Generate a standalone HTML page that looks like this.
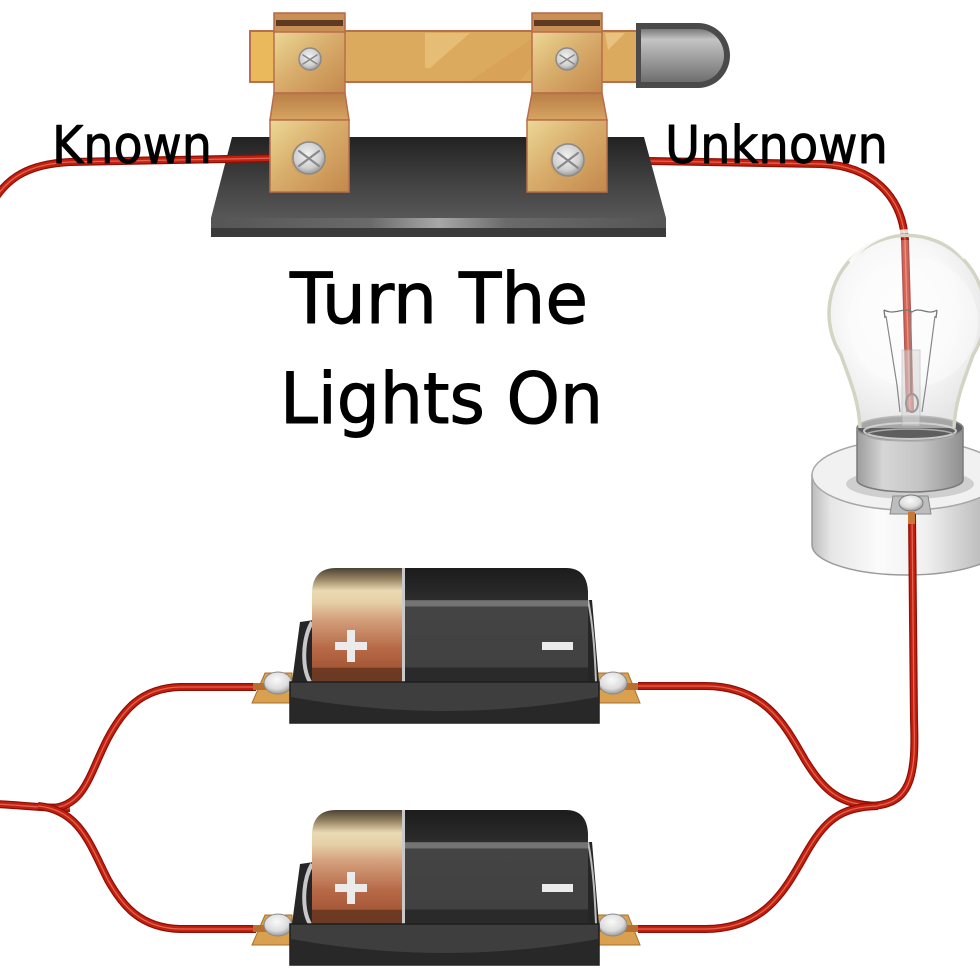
<!DOCTYPE html>
<html><head><meta charset="utf-8"><style>
html,body{margin:0;padding:0;background:#fff;}
svg{display:block;}
.w1{fill:none;stroke:#8a1008;stroke-width:8;stroke-linecap:butt;stroke-linejoin:round;}
.w2{fill:none;stroke:#c4200f;stroke-width:5.5;stroke-linejoin:round;}
.w3{fill:none;stroke:#ec7a66;stroke-width:1.3;stroke-linejoin:round;opacity:.75;}
.t{font-family:"DejaVu Sans","Liberation Sans",sans-serif;fill:#000;stroke:#000;stroke-linejoin:round;}
</style></head><body>
<svg width="980" height="980" viewBox="0 0 980 980" xmlns="http://www.w3.org/2000/svg">
<defs>
<linearGradient id="cu" x1="0" y1="0" x2="1" y2="1">
<stop offset="0" stop-color="#ecd896"/><stop offset="0.45" stop-color="#d9ae6c"/><stop offset="1" stop-color="#c3884c"/></linearGradient>
<linearGradient id="cuS" x1="0" y1="0" x2="0" y2="1">
<stop offset="0" stop-color="#b97e45"/><stop offset="1" stop-color="#d7a462"/></linearGradient>
<linearGradient id="baseTop" x1="0" y1="0" x2="0" y2="1">
<stop offset="0" stop-color="#222"/><stop offset="0.6" stop-color="#444"/><stop offset="1" stop-color="#575757"/></linearGradient>
<linearGradient id="baseFront" x1="0" y1="0" x2="1" y2="0">
<stop offset="0" stop-color="#555"/><stop offset="0.35" stop-color="#6a6a6a"/><stop offset="0.5" stop-color="#a8a8a8"/><stop offset="0.65" stop-color="#6a6a6a"/><stop offset="1" stop-color="#555"/></linearGradient>
<linearGradient id="handle" x1="0" y1="0" x2="0" y2="1">
<stop offset="0" stop-color="#7a7a7a"/><stop offset="0.2" stop-color="#c4c4c4"/><stop offset="0.6" stop-color="#9a9a9a"/><stop offset="1" stop-color="#6e6e6e"/></linearGradient>
<radialGradient id="screw" cx="0.45" cy="0.4" r="0.6">
<stop offset="0" stop-color="#f2f2f2"/><stop offset="0.7" stop-color="#cfcfcf"/><stop offset="1" stop-color="#9a9a9a"/></radialGradient>
<linearGradient id="gold" x1="0" y1="0" x2="0" y2="1">
<stop offset="0" stop-color="#4a4236"/><stop offset="0.1" stop-color="#9a8664"/><stop offset="0.2" stop-color="#eadab4"/><stop offset="0.3" stop-color="#e6cfa6"/><stop offset="0.45" stop-color="#d3a07c"/><stop offset="0.7" stop-color="#b86a48"/><stop offset="0.87" stop-color="#a65838"/><stop offset="0.88" stop-color="#6e3a22"/><stop offset="1" stop-color="#6a3a24"/></linearGradient>
<linearGradient id="dark" x1="0" y1="0" x2="0" y2="1">
<stop offset="0" stop-color="#1c1c1c"/><stop offset="0.28" stop-color="#2c2c2c"/><stop offset="0.285" stop-color="#747474"/><stop offset="0.335" stop-color="#747474"/><stop offset="0.34" stop-color="#444"/><stop offset="0.87" stop-color="#414141"/><stop offset="0.875" stop-color="#2a2a2a"/><stop offset="1" stop-color="#2a2a2a"/></linearGradient>
<radialGradient id="dome" cx="0.45" cy="0.35" r="0.7">
<stop offset="0" stop-color="#fafafa"/><stop offset="0.6" stop-color="#dcdcdc"/><stop offset="1" stop-color="#8c8c8c"/></radialGradient>
<radialGradient id="glass" cx="0.45" cy="0.4" r="0.6">
<stop offset="0" stop-color="#ffffff"/><stop offset="0.6" stop-color="#f4f4f4"/><stop offset="1" stop-color="#d6d6d6"/></radialGradient>
<linearGradient id="cyl" x1="812" y1="0" x2="1002" y2="0" gradientUnits="userSpaceOnUse">
<stop offset="0" stop-color="#bdbdbd"/><stop offset="0.1" stop-color="#e6e6e6"/><stop offset="0.35" stop-color="#fbfbfb"/><stop offset="0.6" stop-color="#f0f0f0"/><stop offset="0.9" stop-color="#bcbcbc"/><stop offset="1" stop-color="#a8a8a8"/></linearGradient>
<linearGradient id="collar" x1="0" y1="0" x2="1" y2="0">
<stop offset="0" stop-color="#9c9c9c"/><stop offset="0.25" stop-color="#d6d6d6"/><stop offset="0.6" stop-color="#c4c4c4"/><stop offset="1" stop-color="#909090"/></linearGradient>
<clipPath id="cell1"><path d="M312,682 L312,592 Q313,568 336,568 L566,568 Q587,568 588,592 L588,682 Z"/></clipPath>
<clipPath id="cell2"><path d="M312,924 L312,834 Q313,810 336,810 L566,810 Q587,810 588,834 L588,924 Z"/></clipPath>
</defs>

<rect width="980" height="980" fill="#fff"/>

<!-- BULB base (behind wire & glass) -->
<path d="M812,475 L812,545 A95,30 0 0 0 1002,545 L1002,475 Z" fill="url(#cyl)" stroke="#9a9a9a" stroke-width="1.5"/>
<ellipse cx="907" cy="475" rx="95" ry="35" fill="#f1f1f1" stroke="#a8a8a8" stroke-width="1.5"/>
<ellipse cx="910" cy="484" rx="64" ry="15" fill="#cfcfcf"/>
<path d="M857,428 L857,480 A53,12 0 0 0 963,480 L963,428 Z" fill="url(#collar)" stroke="#7a7a7a" stroke-width="1.5"/>
<ellipse cx="910" cy="428" rx="53" ry="12" fill="#5e5e5e" stroke="#888" stroke-width="1.5"/>
<ellipse cx="910" cy="431" rx="46" ry="8" fill="none" stroke="#c8c8c8" stroke-width="2"/>
<ellipse cx="910" cy="435" rx="44" ry="6" fill="none" stroke="#aaa" stroke-width="1.5"/>
<path d="M893,496 L928,496 L931,514 L890,514 Z" fill="#bdbdbd" stroke="#8a8a8a"/>
<ellipse cx="911" cy="503" rx="12" ry="8" fill="url(#dome)" stroke="#7a7a7a"/>

<!-- glass globe body -->
<g opacity="0.6">
<path d="M860,428 C859,400 849,378 841,355 A78,78 0 1 1 973,355 C965,378 955,400 954,428 Z" fill="url(#glass)"/>
</g>
<circle cx="913" cy="322" r="65" fill="#fcfcfc" opacity="0.45"/>

<!-- wire through bulb -->
<path class="w1" d="M592,160 L822,164 C872,166 902,196 905,240 L910,412"/>
<path class="w2" d="M592,160 L822,164 C872,166 902,196 905,240 L910,412"/>
<path class="w3" d="M592,160 L822,164 C872,166 902,196 905,240 L910,412"/>
<!-- faded overlay on wire inside glass -->
<path d="M905,240 L910,412" stroke="#fff" stroke-width="9" opacity="0.3" fill="none"/>

<!-- glass outline & highlights -->
<path d="M860,428 C859,400 849,378 841,355 A78,78 0 1 1 973,355 C965,378 955,400 954,428" fill="none" stroke="#d4d4c4" stroke-width="3.5"/>
<path d="M850,262 A72,72 0 0 1 965,258" fill="none" stroke="#fff" stroke-width="4" opacity="0.8"/>
<!-- filament -->
<rect x="902" y="350" width="18" height="76" fill="#d8d8d8" opacity="0.55" stroke="#b0b0b0"/>
<path d="M885,318 L884,310 M884,310 C895,316 905,306 912,312 C920,306 928,316 937,310 M937,310 L936,318" fill="none" stroke="#777" stroke-width="1.3"/>
<path d="M886,316 L897,385 L900,412 M935,316 L926,385 L922,412 M911,312 L911,395" fill="none" stroke="#888" stroke-width="1.2"/>
<ellipse cx="912" cy="403" rx="6" ry="9" fill="none" stroke="#999" stroke-width="2"/>

<!-- SWITCH -->
<polygon points="232,137 644,137 666,218 211,218" fill="url(#baseTop)"/>
<rect x="211" y="218" width="455" height="10" fill="url(#baseFront)"/>
<rect x="211" y="228" width="455" height="9" fill="#3a3a3a"/>

<path class="w1" d="M-6,200 C8,178 28,164 70,162 L280,158"/>
<path class="w2" d="M-6,200 C8,178 28,164 70,162 L280,158"/>
<path class="w3" d="M-6,200 C8,178 28,164 70,162 L280,158"/>
<rect x="278" y="155" width="14" height="6" fill="#c77a38"/>
<rect x="582" y="157" width="12" height="6" fill="#c77a38"/>

<rect x="250" y="31" width="388" height="51" fill="#dcaa5e" stroke="#b8704c" stroke-width="2"/>
<rect x="251" y="32" width="23" height="49" fill="#eab95c"/>
<polygon points="425,33 470,33 430,68 425,68" fill="#e8c27a" opacity="0.8"/>
<polygon points="470,81 520,81 560,33 540,33" fill="#d69f55" opacity="0.6"/>
<polygon points="605,33 625,33 608,50" fill="#ecc888" opacity="0.8"/>
<path d="M636,23 L698,23 A32,32.5 0 0 1 698,88 L636,88 Z" fill="#4a4a4a"/>
<path d="M641,29 L698,29 A26,26.5 0 0 1 698,82 L641,82 Z" fill="url(#handle)"/>

<rect x="274" y="13" width="71" height="20" fill="#c98f56" stroke="#b06a48" stroke-width="1.5"/>
<rect x="276" y="20" width="67" height="6" fill="#5c3b22"/>
<rect x="274" y="32" width="71" height="61" fill="url(#cu)" stroke="#b86e4a" stroke-width="1.5"/>
<polygon points="274,93 345,93 349,120 270,120" fill="url(#cuS)" stroke="#b86e4a" stroke-width="1.5"/>
<rect x="270" y="120" width="79" height="72" fill="url(#cu)" stroke="#b86e4a" stroke-width="1.5"/>
<rect x="532" y="13" width="70" height="20" fill="#c98f56" stroke="#b06a48" stroke-width="1.5"/>
<rect x="534" y="20" width="66" height="6" fill="#5c3b22"/>
<rect x="532" y="32" width="70" height="61" fill="url(#cu)" stroke="#b86e4a" stroke-width="1.5"/>
<polygon points="532,93 602,93 607,120 527,120" fill="url(#cuS)" stroke="#b86e4a" stroke-width="1.5"/>
<rect x="527" y="120" width="80" height="72" fill="url(#cu)" stroke="#b86e4a" stroke-width="1.5"/>

<g stroke-linecap="round">
<circle cx="310" cy="59" r="11" fill="url(#screw)" stroke="#8a8a8a" stroke-width="1.5"/>
<path d="M303,55 L317,64 M317,55 L303,64" stroke="#8a8a8a" stroke-width="1.6"/>
<circle cx="567" cy="59" r="11" fill="url(#screw)" stroke="#8a8a8a" stroke-width="1.5"/>
<path d="M560,55 L574,64 M574,55 L560,64" stroke="#8a8a8a" stroke-width="1.6"/>
<circle cx="309" cy="159" r="18" fill="#d3a25c"/>
<circle cx="309" cy="158" r="16" fill="url(#screw)" stroke="#8a8a8a" stroke-width="1.5"/>
<path d="M299,151 L319,166 M319,151 L299,166" stroke="#8a8a8a" stroke-width="2.2"/>
<circle cx="568" cy="161" r="18" fill="#d3a25c"/>
<circle cx="568" cy="160" r="16" fill="url(#screw)" stroke="#8a8a8a" stroke-width="1.5"/>
<path d="M558,153 L578,168 M578,153 L558,168" stroke="#8a8a8a" stroke-width="2.2"/>
</g>

<!-- bottom wires -->
<g>
<path class="w1" d="M912,514 L914,720 C916,775 912,806 868,806"/>
<path class="w2" d="M912,514 L914,720 C916,775 912,806 868,806"/>
<path class="w3" d="M912,514 L914,720 C916,775 912,806 868,806"/>
<path class="w1" d="M638,686 L705,686 C765,686 785,725 805,760 C825,792 840,805 878,806"/>
<path class="w2" d="M638,686 L705,686 C765,686 785,725 805,760 C825,792 840,805 878,806"/>
<path class="w3" d="M638,686 L705,686 C765,686 785,725 805,760 C825,792 840,805 878,806"/>
<path class="w1" d="M638,929 L705,929 C765,929 785,890 805,855 C825,820 840,807 878,806"/>
<path class="w2" d="M638,929 L705,929 C765,929 785,890 805,855 C825,820 840,807 878,806"/>
<path class="w3" d="M638,929 L705,929 C765,929 785,890 805,855 C825,820 840,807 878,806"/>
<path class="w1" d="M-6,804 C20,805 40,808 70,808"/>
<path class="w2" d="M-6,804 C20,805 40,808 70,808"/>
<path class="w3" d="M-6,804 C20,805 40,808 70,808"/>
<path class="w1" d="M256,687 L180,687 C140,688 122,712 108,738 C90,772 85,806 52,808"/>
<path class="w2" d="M256,687 L180,687 C140,688 122,712 108,738 C90,772 85,806 52,808"/>
<path class="w3" d="M256,687 L180,687 C140,688 122,712 108,738 C90,772 85,806 52,808"/>
<path class="w1" d="M256,929 L180,929 C140,928 122,905 108,880 C90,845 80,810 38,806"/>
<path class="w2" d="M256,929 L180,929 C140,928 122,905 108,880 C90,845 80,810 38,806"/>
<path class="w3" d="M256,929 L180,929 C140,928 122,905 108,880 C90,845 80,810 38,806"/>
<rect x="908" y="512" width="7" height="12" fill="#c77a38"/>
</g>

<!-- BATTERY 1 -->
<g>
<polygon points="252,703 265,673 292,673 292,703" fill="#d9a050" stroke="#a8702e"/>
<rect x="253" y="683" width="38" height="7" fill="#b8702e"/>
<ellipse cx="278" cy="683" rx="14" ry="11" fill="url(#dome)" stroke="#8a8a8a"/>
<polygon points="597,673 628,673 640,703 597,703" fill="#d9a050" stroke="#a8702e"/>
<rect x="598" y="683" width="40" height="7" fill="#b8702e"/>
<ellipse cx="613" cy="683" rx="14" ry="11" fill="url(#dome)" stroke="#8a8a8a"/>
<polygon points="292,682 300,622 314,620 314,682" fill="#262626"/>
<path d="M312,622 C302,640 302,668 310,682" fill="none" stroke="#c8c8c8" stroke-width="4"/>
<polygon points="586,600 592,600 599,682 586,682" fill="#262626"/>
<path d="M588,600 C594,630 595,660 596,682" fill="none" stroke="#bdbdbd" stroke-width="2"/>
<g clip-path="url(#cell1)">
<rect x="312" y="568" width="92" height="114" fill="url(#gold)"/>
<rect x="404" y="568" width="184" height="114" fill="url(#dark)"/>
<rect x="402" y="568" width="3" height="114" fill="#c9c9c9"/>
</g>
<rect x="347" y="630" width="8" height="32" fill="#ebebeb"/>
<rect x="335" y="642" width="32" height="8" fill="#ebebeb"/>
<rect x="542" y="642" width="31" height="8" fill="#ebebeb"/>
<rect x="290" y="682" width="309" height="41" fill="#3e3e3e" stroke="#1e1e1e" stroke-width="1.5"/>
<path d="M291,697 Q445,725 598,697 L598,722 L291,722 Z" fill="#282828"/>
</g>

<!-- BATTERY 2 -->
<g>
<polygon points="252,945 265,915 292,915 292,945" fill="#d9a050" stroke="#a8702e"/>
<rect x="253" y="925" width="38" height="7" fill="#b8702e"/>
<ellipse cx="278" cy="925" rx="14" ry="11" fill="url(#dome)" stroke="#8a8a8a"/>
<polygon points="597,915 628,915 640,945 597,945" fill="#d9a050" stroke="#a8702e"/>
<rect x="598" y="925" width="40" height="7" fill="#b8702e"/>
<ellipse cx="613" cy="925" rx="14" ry="11" fill="url(#dome)" stroke="#8a8a8a"/>
<polygon points="292,924 300,864 314,862 314,924" fill="#262626"/>
<path d="M312,864 C302,882 302,910 310,924" fill="none" stroke="#c8c8c8" stroke-width="4"/>
<polygon points="586,842 592,842 599,924 586,924" fill="#262626"/>
<path d="M588,842 C594,872 595,902 596,924" fill="none" stroke="#bdbdbd" stroke-width="2"/>
<g clip-path="url(#cell2)">
<rect x="312" y="810" width="92" height="114" fill="url(#gold)"/>
<rect x="404" y="810" width="184" height="114" fill="url(#dark)"/>
<rect x="402" y="810" width="3" height="114" fill="#c9c9c9"/>
</g>
<rect x="347" y="872" width="8" height="32" fill="#ebebeb"/>
<rect x="335" y="884" width="32" height="8" fill="#ebebeb"/>
<rect x="542" y="884" width="31" height="8" fill="#ebebeb"/>
<rect x="290" y="924" width="309" height="41" fill="#3e3e3e" stroke="#1e1e1e" stroke-width="1.5"/>
<path d="M291,939 Q445,967 598,939 L598,964 L291,964 Z" fill="#282828"/>
</g>

<!-- TEXT -->
<text class="t" x="52" y="163" font-size="52" stroke-width="0.9" textLength="160" lengthAdjust="spacingAndGlyphs">Known</text>
<text class="t" x="665" y="163" font-size="52" stroke-width="0.9" textLength="223" lengthAdjust="spacingAndGlyphs">Unknown</text>
<text class="t" x="290" y="323" font-size="70" stroke-width="1" textLength="298" lengthAdjust="spacingAndGlyphs">Turn The</text>
<text class="t" x="280" y="423" font-size="70" stroke-width="1" textLength="323" lengthAdjust="spacingAndGlyphs">Lights On</text>
</svg>
</body></html>
